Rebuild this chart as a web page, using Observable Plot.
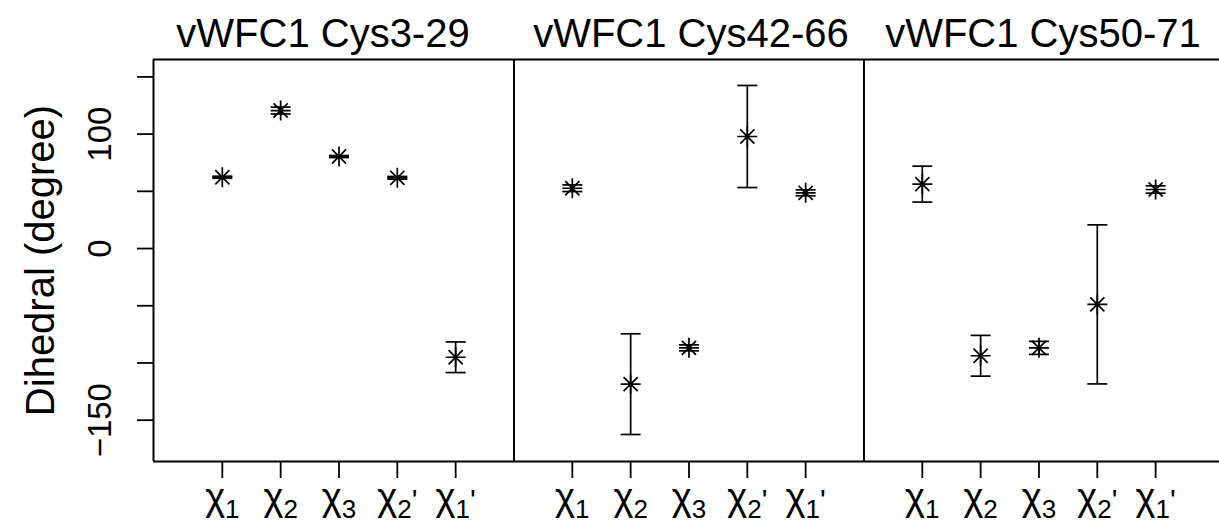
<!DOCTYPE html>
<html>
<head>
<meta charset="utf-8">
<script src="https://cdn.jsdelivr.net/npm/d3@7"></script>
<script src="https://cdn.jsdelivr.net/npm/@observablehq/plot@0.6"></script>
<style>
  html, body { margin: 0; padding: 0; background: #fff; }
  #chart svg { display: block; }
  g[aria-label="panel-title"] text, g[aria-label="y-title"] text { letter-spacing: 1px; }
</style>
</head>
<body>
<div id="chart"></div>
<script>
// ---- data ----
const panels = ["vWFC1 Cys3-29", "vWFC1 Cys42-66", "vWFC1 Cys50-71"];
const angles = ["χ1", "χ2", "χ3", "χ2'", "χ1'"];
const meanCys3_29  = [62.3, 120.6, 80.4, 61.8, -95.0];
const errCys3_29   = [0.9, 3.0, 0.9, 1.2, 13.4];
const meanCys42_66 = [52.7, -118.5, -86.8, 97.9, 48.7];
const errCys42_66  = [2.9, 44.0, 2.6, 44.6, 2.6];
const meanCys50_71 = [56.3, -93.7, -86.8, -48.8, 51.6];
const errCys50_71  = [15.7, 17.8, 5.7, 69.5, 3.2];
const yTicks = [-150, -100, -50, 0, 50, 100, 150];
const yTickLabels = ["−150", "", "", "0", "", "100", ""];
const yLabel = "Dihedral (degree)";

const means = [meanCys3_29, meanCys42_66, meanCys50_71];
const errs = [errCys3_29, errCys42_66, errCys50_71];
const slots = angles.length + 1; // positions per panel
const rows = [];
panels.forEach((p, pi) => angles.forEach((a, ai) => {
  rows.push({panel: p, angle: a, u: pi * slots + ai + 1, mean: means[pi][ai], err: errs[pi][ai]});
}));
const tickPos = rows.map(d => d.u);
const tickLab = new Map(rows.map(d => [d.u, d.angle]));
const dividers = panels.slice(1).map((_, i) => (i + 1) * slots);

// ---- symbols ----
const asterisk8 = {draw(ctx, size) {
  const r = Math.sqrt(size / Math.PI), d = r / Math.SQRT2;
  ctx.moveTo(-r, 0); ctx.lineTo(r, 0);
  ctx.moveTo(0, -r); ctx.lineTo(0, r);
  ctx.moveTo(-d, -d); ctx.lineTo(d, d);
  ctx.moveTo(-d, d); ctx.lineTo(d, -d);
}};
const capSym = {draw(ctx, size) {
  const r = Math.sqrt(size / Math.PI);
  ctx.moveTo(-r, 0); ctx.lineTo(r, 0);
}};

const xDomain = [-0.18, 18.095];
const yDomain = [-186.1, 165.2];
const titleDx = [-16, 2, 4];

const chart = Plot.plot({
  width: 1219,
  height: 524,
  marginTop: 59,
  marginBottom: 63,
  marginLeft: 153,
  marginRight: 0,
  style: {fontFamily: "'Liberation Sans', Arial, Helvetica, sans-serif", background: "#fff", color: "#000"},
  x: {domain: xDomain},
  y: {domain: yDomain},
  marks: [
    // frame: top, bottom, left, and panel dividers
    Plot.ruleY(yDomain, {stroke: "#000", strokeWidth: 2}),
    Plot.ruleX([xDomain[0], ...dividers], {stroke: "#000", strokeWidth: 2}),
    // error bars
    Plot.ruleX(rows, {x: "u", y1: d => d.mean - d.err, y2: d => d.mean + d.err, stroke: "#000", strokeWidth: 1.7}),
    Plot.dot(rows, {x: "u", y: d => d.mean - d.err, symbol: capSym, r: 10, fill: "none", stroke: "#000", strokeWidth: 1.7}),
    Plot.dot(rows, {x: "u", y: d => d.mean + d.err, symbol: capSym, r: 10, fill: "none", stroke: "#000", strokeWidth: 1.7}),
    // points
    Plot.dot(rows, {x: "u", y: "mean", symbol: asterisk8, r: 10, fill: "none", stroke: "#000", strokeWidth: 1.7}),
    // axes
    Plot.axisY({ticks: yTicks, tickSize: 16, tickPadding: 27, tickRotate: -90, fontSize: 33,
      tickFormat: v => yTickLabels[yTicks.indexOf(v)], label: null, strokeWidth: 1.8}),
    Plot.axisX({ticks: tickPos, tickSize: 17, tickPadding: 5, fontSize: 38,
      tickFormat: v => tickLab.get(v), label: null, strokeWidth: 1.8}),
    // titles
    ...panels.map((t, pi) => Plot.text([t], {
      x: pi * slots + (slots / 2), frameAnchor: "top", lineAnchor: "bottom", dy: -12.3, dx: titleDx[pi],
      text: d => d, fontSize: 40, fill: "#000", ariaLabel: "panel-title"
    })),
    Plot.text([yLabel], {frameAnchor: "left", rotate: -90, lineAnchor: "bottom", textAnchor: "middle", dx: -100,
      text: d => d, fontSize: 40, fill: "#000", ariaLabel: "y-title"})
  ]
});

// rebuild x tick labels with subscripts and primes
d3.select(chart).selectAll('g[aria-label="x-axis tick label"] text').each(function() {
  const s = this.textContent;
  const sub = s.charAt(1);
  const prime = s.includes("'");
  const t = d3.select(this);
  t.text("χ");
  t.append("tspan").attr("font-size", 26).attr("dy", 8).text(sub);
  if (prime) t.append("tspan").attr("font-size", 30).attr("dy", -8).text("'");
});

document.getElementById("chart").appendChild(chart);
</script>
</body>
</html>
